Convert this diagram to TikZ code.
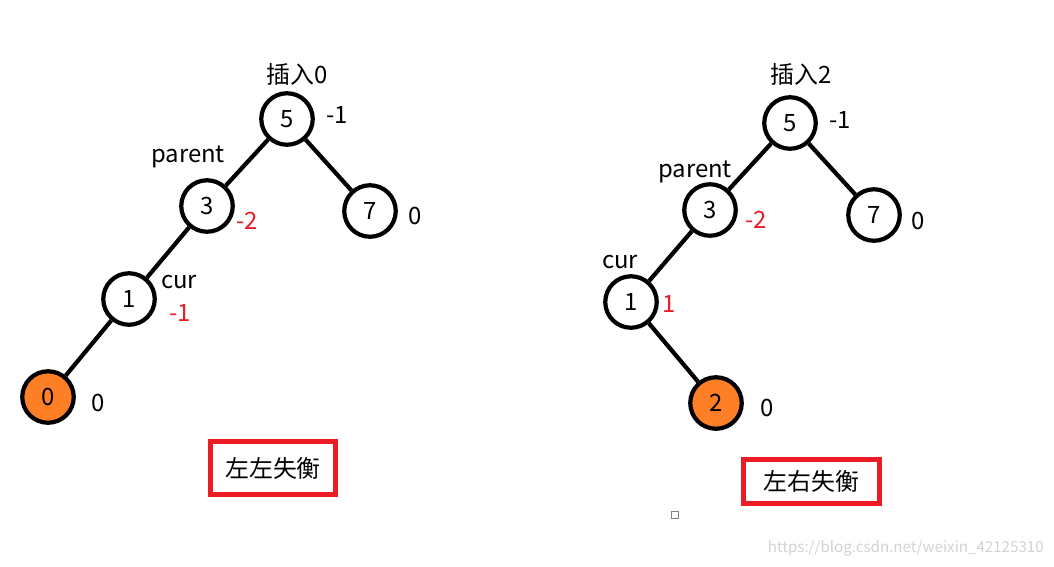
\documentclass[tikz,border=0pt]{standalone}
\usepackage{fontspec}
\setmainfont{Noto Sans CJK SC}
\usetikzlibrary{positioning}
\definecolor{paintorange}{HTML}{FF7F27}
\definecolor{paintred}{HTML}{ED1C24}

\begin{document}
\begin{tikzpicture}[x=0.02cm, y=-0.02cm,
    every node/.style={font=\fontsize{13.6}{16}\selectfont, inner sep=0pt},
    tnode/.style={circle, draw, line width=2.4pt, minimum size=1.03cm, fill=white},
    newnode/.style={tnode, fill=paintorange},
    bf/.style={text=paintred},
    edge/.style={line width=2.4pt},
    result/.style={draw=paintred, line width=2.8pt, minimum width=2.5cm, minimum height=1.06cm}]
            \useasboundingbox (0,0) rectangle (1054,566);

            \node[tnode] (l_5) at (287,119) {5};
            \node[tnode] (l_3) at (207,206) {3};
            \node[tnode] (l_7) at (370,211) {7};
            \node[tnode] (l_1) at (129,299) {1};
            \node[newnode] (l_0) at (48,397) {0};

            \draw[edge] (l_5) -- (l_3);
            \draw[edge] (l_5) -- (l_7);
            \draw[edge] (l_3) -- (l_1);
            \draw[edge] (l_1) -- (l_0);

            \node (l_ins) at (297,74) {插入0};
            \node (l_5_bf) at (337,115) {-1};
            \node (l_par) at (188,157) {parent};
            \node[bf] (l_3_bf) at (247,221) {-2};
            \node (l_7_bf) at (415,216) {0};
            \node (l_cur) at (179,282) {cur};
            \node[bf] (l_1_bf) at (180,313) {-1};
            \node (l_0_bf) at (98,403) {0};
            \node[result] (l_res) at (273,468) {左左失衡};

            \node[tnode] (r_5) at (790,123) {5};
            \node[tnode] (r_3) at (710,210) {3};
            \node[tnode] (r_7) at (874,215) {7};
            \node[tnode] (r_1) at (631,302) {1};
            \node[newnode] (r_2) at (716,403) {2};

            \draw[edge] (r_5) -- (r_3);
            \draw[edge] (r_5) -- (r_7);
            \draw[edge] (r_3) -- (r_1);
            \draw[edge] (r_1) -- (r_2);

            \node (r_ins) at (801,74) {插入2};
            \node (r_5_bf) at (840,120) {-1};
            \node (r_par) at (695,172) {parent};
            \node[bf] (r_3_bf) at (756,220) {-2};
            \node (r_7_bf) at (918,221) {0};
            \node (r_cur) at (620,262) {cur};
            \node[bf] (r_1_bf) at (669,304) {1};
            \node (r_2_bf) at (767,408) {0};
            \node[result, minimum width=2.72cm, minimum height=0.88cm] (r_res) at (811.5,481.5) {左右失衡};

            \node[draw=gray, line width=0.4pt, minimum size=0.13cm] (icon) at (675,515) {};
            \node[anchor=east, text=gray!35, font=\fontsize{8.6}{10}\selectfont] (mark) at (1044,548) {https://blog.csdn.net/weixin\_42125310};
        \end{tikzpicture}
\end{document}
